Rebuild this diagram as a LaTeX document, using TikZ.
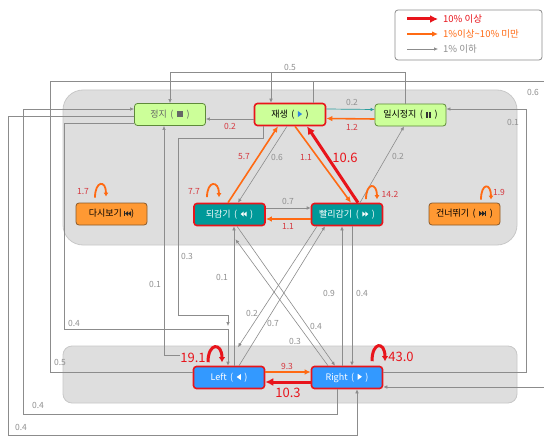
\documentclass[tikz,border=0pt]{standalone}
\usepackage{fontspec}
\setmainfont{Noto Sans CJK KR}
\usetikzlibrary{arrows.meta}
\definecolor{grpfill}{HTML}{DEDEDE}
\definecolor{grpdraw}{HTML}{C8C8C8}
\definecolor{lgreen}{HTML}{CCFF99}
\definecolor{dgreen}{HTML}{5E8A3A}
\definecolor{tealfill}{HTML}{009999}
\definecolor{bluefill}{HTML}{3399FF}
\definecolor{orfill}{HTML}{FF9933}
\definecolor{orbd}{HTML}{8A5A2A}
\definecolor{redbd}{HTML}{E8151B}
\definecolor{oline}{HTML}{FF6A13}
\definecolor{cgray}{HTML}{8C8C8C}
\definecolor{labred}{HTML}{D5383F}
\definecolor{bigred}{HTML}{E8141B}
\definecolor{labgray}{HTML}{909090}
\definecolor{tealline}{HTML}{2A9D9D}
\definecolor{playblue}{HTML}{2E86E0}
\newcommand\gsp{\hspace{3.5pt}}
\tikzset{icon/.style={baseline=0pt,x=1pt,y=1pt,sharp corners,line width=0pt}}
\newcommand\icStop{\tikz[icon]\fill[black!60] (0,0) rectangle (6,6);}
\newcommand\icPlay[1]{\tikz[icon]\fill[#1] (0,0.3)--(0,6.3)--(4.2,3.3)--cycle;}
\newcommand\icBack[1]{\tikz[icon]\fill[#1] (4.2,0.3)--(4.2,6.3)--(0,3.3)--cycle;}
\newcommand\icFF[1]{\tikz[icon]{\fill[#1] (0,0.8)--(0,5.8)--(3,3.3)--cycle; \fill[#1] (3,0.8)--(3,5.8)--(6,3.3)--cycle;}}
\newcommand\icRW[1]{\tikz[icon]{\fill[#1] (6,0.8)--(6,5.8)--(3,3.3)--cycle; \fill[#1] (3,0.8)--(3,5.8)--(0,3.3)--cycle;}}
\newcommand\icPause{\tikz[icon]{\fill[black!80] (0,0.3) rectangle (1.7,6.3); \fill[black!80] (3,0.3) rectangle (4.7,6.3);}}
\newcommand\icPrev{\tikz[icon]{\fill[black!85] (0,0.8) rectangle (1.2,5.8); \fill[black!85] (4.2,0.8)--(4.2,5.8)--(1.2,3.3)--cycle; \fill[black!85] (7.2,0.8)--(7.2,5.8)--(4.2,3.3)--cycle;}}
\newcommand\icNext{\tikz[icon]{\fill[black!85] (0,0.8)--(0,5.8)--(3,3.3)--cycle; \fill[black!85] (3,0.8)--(3,5.8)--(6,3.3)--cycle; \fill[black!85] (6,0.8) rectangle (7.2,5.8);}}
\begin{document}
\begin{tikzpicture}[x=1pt,y=-1pt,
  box/.style={rounded corners=3pt, minimum width=71pt, minimum height=22pt, inner sep=0pt, font=\fontsize{9}{10}\selectfont},
  greenbox/.style={box, fill=lgreen, draw=dgreen, line width=0.8pt},
  playbox/.style={box, fill=lgreen, draw=redbd, line width=1.6pt},
  orangebox/.style={box, fill=orfill, draw=orbd, line width=0.8pt},
  tealbox/.style={box, fill=tealfill, draw=redbd, line width=1.6pt, text=white},
  bluebox/.style={box, fill=bluefill, draw=redbd, line width=1.6pt, text=white},
  gl/.style={draw=cgray, line width=0.6pt, -{Latex[length=4pt,width=3.5pt]}},
  tl/.style={draw=tealline, line width=0.7pt, -{Latex[length=4pt,width=3.5pt]}},
  ol/.style={draw=oline, line width=1.6pt, -{Latex[length=6pt,width=5.5pt]}},
  rl/.style={draw=bigred, line width=3pt, -{Latex[length=8pt,width=8pt]}},
  lab/.style={font=\fontsize{8.5}{9}\selectfont, text=labgray, inner sep=0pt},
  labr/.style={lab, text=labred},
  big/.style={font=\fontsize{13}{14}\selectfont, text=bigred, inner sep=0pt},
  legtext/.style={anchor=west, font=\fontsize{9.5}{11}\selectfont, inner sep=0pt},
  oloop/.style={draw=oline, line width=1.8pt, -{Latex[length=4pt,width=5pt]}},
  rloop/.style={draw=bigred, line width=3pt, -{Latex[length=5pt,width=6.5pt]}}]
\useasboundingbox (0,0) rectangle (544,436);
\fill[white] (0,0) rectangle (544,436);
% groups
\draw[draw=grpdraw, fill=grpfill, rounded corners=20pt, line width=0.8pt] (63,90) rectangle (517,245);
\draw[draw=grpdraw, fill=grpfill, rounded corners=9pt, line width=0.8pt] (63,346) rectangle (517,403);
% legend
\draw[draw=cgray, rounded corners=3pt, line width=0.8pt] (395,10) rectangle (542,60);
\coordinate (lg1a) at (407,19); \coordinate (lg1b) at (438,19);
\coordinate (lg2a) at (407,34); \coordinate (lg2b) at (438,34);
\coordinate (lg3a) at (407,49); \coordinate (lg3b) at (438,49);
\draw[rl] (lg1a) -- (lg1b);
\draw[ol] (lg2a) -- (lg2b);
\draw[gl] (lg3a) -- (lg3b);
\node[legtext, text=bigred] (lgt1) at (443,19) {10\% 이상};
\node[legtext, text=oline] (lgt2) at (443,34) {1\%이상\textasciitilde10\% 미만};
\node[legtext, text=labgray] (lgt3) at (443,49) {1\% 이하};
% nodes
\node[greenbox, text=black!60] (stop) at (170,114.5) {정지\gsp(\gsp\icStop\gsp)};
\node[playbox] (play) at (290,114.5) {재생\gsp(\gsp\icPlay{playblue}\gsp)};
\node[greenbox] (pause) at (410.5,115) {일시정지\gsp(\gsp\icPause\gsp)};
\node[orangebox] (replay) at (111.5,214) {다시보기\hspace{2pt}\icPrev)};
\node[tealbox] (rew) at (229.5,214.5) {되감기\gsp(\gsp\icRW{white}\gsp)};
\node[tealbox] (ff) at (347,214.5) {빨리감기\gsp(\gsp\icFF{white}\gsp)};
\node[orangebox] (skip) at (464.5,214) {건너뛰기\gsp(\gsp\icNext\gsp)};
\node[bluebox] (left) at (229,377.5) {Left\gsp(\gsp\icBack{white}\gsp)};
\node[bluebox] (right) at (347,377.5) {Right\gsp(\gsp\icPlay{white}\gsp)};
% top connectors
\draw[gl] ([xshift=-5.5pt]pause.north) |- ([yshift=31pt]stop.north) -- (stop.north);
\coordinate (j0) at (271,72.5);
\draw[gl] (j0) -- ([xshift=-19pt]play.north);
\coordinate (j1) at (313,81);
\draw[draw=cgray, line width=0.6pt] ([xshift=23pt]play.north) -- (j1) -- (50,81) -- (50,372) -- ([yshift=5.5pt]left.west);
\draw[gl] (j1) -- (546,81) -- (546,387) -- ([yshift=-9.5pt]right.east);
\draw[gl] ([yshift=-4.5pt]play.west) -- ([yshift=-4.5pt]stop.east);
\draw[tl] ([yshift=5.5pt]play.east) -- ([yshift=5.5pt]pause.west);
\draw[ol] ([yshift=-4pt]pause.west) -- ([yshift=-4pt]play.east);
\draw[gl] ([xshift=-3pt]play.south) -- ([xshift=8.5pt]rew.north);
\draw[ol] ([xshift=-1.5pt]rew.north) -- ([xshift=-12pt]play.south);
\draw[ol] ([xshift=5pt]play.south) -- ([xshift=4pt]ff.north);
\draw[rl] ([xshift=11pt]ff.north) -- ([xshift=17pt]play.south);
\draw[gl] ([xshift=13pt]ff.north) -- ([xshift=-6.5pt]pause.south);
\draw[gl] ([yshift=6.5pt]rew.east) -- ([yshift=6.5pt]ff.west);
\draw[ol] ([yshift=-4.5pt]ff.west) -- ([yshift=-4.5pt]rew.east);
% left side connectors
\draw[gl] ([xshift=-27pt]play.south) |- (178,138) -- (178,315) -| (228,326);
\draw[gl] ([yshift=-8.5pt]stop.west) -| (64,329) -| ([xshift=-1pt]left.north);
\draw[gl] ([xshift=-12.5pt,yshift=10pt]left.north west) -| ([xshift=-6pt]stop.south);
\draw[gl] ([xshift=5pt]left.north) -- ([xshift=4.5pt]rew.south);
\draw[gl] ([xshift=-10pt]right.south) |- (23,414) |- ([yshift=5.5pt]stop.west);
\draw[gl] ([yshift=-1.5pt]stop.west) -| (8,435) -| ([xshift=10pt]right.south);
% crossing
\draw[gl] ([xshift=7.5pt]rew.south) -- ([xshift=-12pt]right.north);
\draw[gl] ([xshift=-19pt]right.north) -- ([xshift=6pt,yshift=-13pt]rew.south);
\draw[gl] ([xshift=-30pt]ff.south) -- ([xshift=9pt,yshift=18.5pt]left.north);
\draw[gl] ([xshift=10pt]left.north) -- ([xshift=-22pt]ff.south);
\draw[gl] ([xshift=-5pt]right.north) -- ([xshift=-5pt]ff.south);
\draw[gl] ([xshift=5pt]ff.south) -- ([xshift=5pt]right.north);
% bottom
\draw[ol] ([yshift=5.5pt]left.east) -- ([yshift=5.5pt]right.west);
\draw[rl] ([yshift=-4.5pt]right.west) -- ([yshift=-4.5pt]left.east);
\draw[gl] ([yshift=5.5pt]right.east) -| (526,109) -- ([yshift=6pt]pause.east);
% loops
\draw[oloop] ([xshift=-16.5pt,yshift=5pt]replay.north) .. controls +(0,-17) and +(0,-17) .. ([xshift=-5.5pt,yshift=6pt]replay.north);
\draw[oloop] ([xshift=-22.5pt,yshift=5.5pt]rew.north) .. controls +(0,-17) and +(0,-17) .. ([xshift=-10.5pt,yshift=5.5pt]rew.north);
\draw[oloop] ([xshift=19pt,yshift=3.5pt]ff.north) .. controls +(0,-17) and +(0,-17) .. ([xshift=30pt,yshift=3.5pt]ff.north);
\draw[oloop] ([xshift=16.5pt,yshift=3pt]skip.north) .. controls +(0,-17) and +(0,-17) .. ([xshift=26.5pt,yshift=3pt]skip.north);
\draw[rloop] ([xshift=-21pt,yshift=3.5pt]left.north) .. controls +(0,-20) and +(0,-20) .. ([xshift=-7pt,yshift=3.5pt]left.north);
\draw[rloop] ([xshift=25pt,yshift=4.5pt]right.north) .. controls +(0,-20) and +(0,-20) .. ([xshift=38pt,yshift=4.5pt]right.north);
% labels
\node[lab] (t1) at (290,67) {0.5};
\node[lab] (t2) at (533,92) {0.6};
\node[labr] (t3) at (230,126) {0.2};
\node[lab] (t4) at (352,102) {0.2};
\node[labr] (t5) at (352,127) {1.2};
\node[labr] (t6) at (244,157) {5.7};
\node[lab] (t7) at (277,157) {0.6};
\node[labr] (t8) at (306,158) {1.1};
\node[big] (t9) at (345,158) {10.6};
\node[lab] (t10) at (398,156) {0.2};
\node[lab] (t11) at (288,201) {0.7};
\node[labr] (t12) at (288,227) {1.1};
\node[labr] (t13) at (83,192) {1.7};
\node[labr] (t14) at (194,192) {7.7};
\node[labr] (t15) at (390,194) {14.2};
\node[labr] (t16) at (499,192) {1.9};
\node[lab] (t17) at (187,256) {0.3};
\node[lab] (t18) at (155,284) {0.1};
\node[lab] (t19) at (222,277) {0.1};
\node[lab] (t20) at (74,323) {0.4};
\node[lab] (t21) at (60,362) {0.5};
\node[lab] (t22) at (38,405) {0.4};
\node[lab] (t23) at (21,427) {0.4};
\node[lab] (t24) at (252,313) {0.2};
\node[lab] (t25) at (273,323) {0.7};
\node[lab] (t26) at (295,341) {0.3};
\node[lab] (t27) at (316,326) {0.4};
\node[lab] (t28) at (329,293) {0.9};
\node[lab] (t29) at (362,293) {0.4};
\node[labr] (t30) at (287,366) {9.3};
\node[big] (t31) at (288,393) {10.3};
\node[big] (t32) at (193,358) {19.1};
\node[big] (t33) at (401,357) {43.0};
\node[lab] (t34) at (513,122) {0.1};
\end{tikzpicture}
\end{document}
